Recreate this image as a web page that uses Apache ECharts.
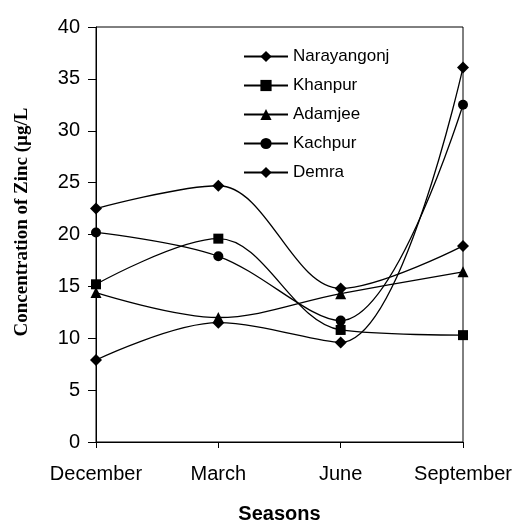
<!DOCTYPE html>
<html>
<head>
<meta charset="utf-8">
<script src="https://cdn.jsdelivr.net/npm/echarts@6/dist/echarts.min.js"></script>
<style>html,body{margin:0;padding:0;background:#fff}#c{width:517px;height:520px}</style>
</head>
<body>
<div id="c"></div>
<script>
const seasons = ['December', 'March', 'June', 'September'];
const narayangonj = [22.5, 24.7, 14.8, 18.9];
const khanpur = [15.2, 19.6, 10.8, 10.3];
const adamjee = [14.4, 12.0, 14.3, 16.4];
const kachpur = [20.2, 17.9, 11.7, 32.5];
const demra = [7.9, 11.5, 9.6, 36.1];
const seriesNames = ['Narayangonj', 'Khanpur', 'Adamjee', 'Kachpur', 'Demra'];
const yTicks = [0, 5, 10, 15, 20, 25, 30, 35, 40];

const chart = echarts.init(document.getElementById('c'), null, {renderer: 'canvas'});
function mk(name, data, symbol, size) {
  return {
    name: name, type: 'line', data: data, smooth: 0.35,
    symbol: symbol, symbolSize: size,
    lineStyle: {color: '#000', width: 1.3},
    itemStyle: {color: '#000'},
    emphasis: {disabled: true}
  };
}
chart.setOption({
  animation: false,
  backgroundColor: '#fff',
  grid: {left: 96, right: 54, top: 27, bottom: 78, show: true, borderColor: '#000', borderWidth: 1,
         containLabel: false, outerBoundsMode: 'none'},
  legend: {
    orient: 'vertical', left: 243, top: 48, padding: 0, itemWidth: 44, itemHeight: 14, itemGap: 12,
    data: seriesNames,
    textStyle: {fontFamily: 'Liberation Sans, Arial', fontSize: 17, color: '#000'}
  },
  xAxis: {
    type: 'category', data: seasons, boundaryGap: false,
    axisLine: {lineStyle: {color: '#000', width: 1}},
    axisTick: {show: true, length: 6, interval: 0, lineStyle: {color: '#000'}},
    axisLabel: {fontFamily: 'Liberation Sans, Arial', fontSize: 20, color: '#000', margin: 22, interval: 0},
    name: 'Seasons', nameLocation: 'middle', nameGap: 62,
    nameTextStyle: {fontFamily: 'Liberation Sans, Arial', fontSize: 20, fontWeight: 'bold', color: '#000'},
    splitLine: {show: false}
  },
  yAxis: {
    type: 'value', min: yTicks[0], max: yTicks[yTicks.length-1], interval: 5,
    axisLine: {show: true, lineStyle: {color: '#000', width: 1}},
    axisTick: {show: true, length: 8, lineStyle: {color: '#000'}},
    axisLabel: {fontFamily: 'Liberation Sans, Arial', fontSize: 20, color: '#000', margin: 16},
    splitLine: {show: false}
  },
  graphic: [{
    type: 'text', x: 22, y: 222, rotation: Math.PI / 2,
    style: {text: 'Concentration of Zinc (µg/L', font: 'bold 19px "Liberation Serif", "Times New Roman"', fill: '#000', align: 'center', verticalAlign: 'middle'}
  }],
  series: [
    mk(seriesNames[0], narayangonj, 'diamond', 12),
    mk(seriesNames[1], khanpur, 'rect', 10),
    mk(seriesNames[2], adamjee, 'triangle', 11),
    mk(seriesNames[3], kachpur, 'circle', 10),
    mk(seriesNames[4], demra, 'diamond', 12)
  ]
});
</script>
</body>
</html>
